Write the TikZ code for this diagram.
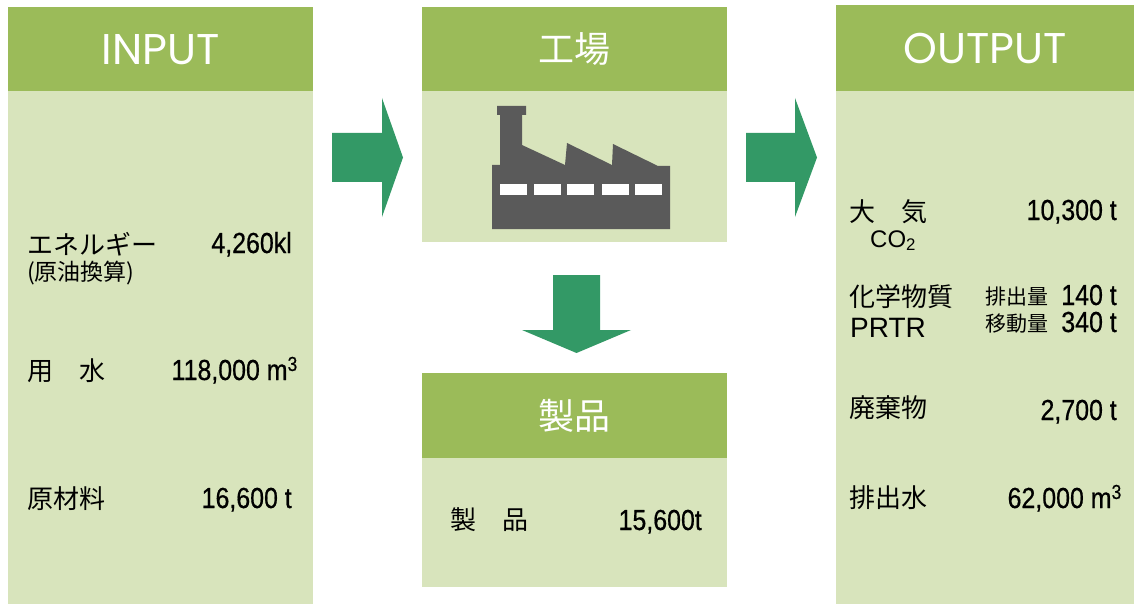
\documentclass[tikz,border=0pt]{standalone}
\usepackage{fontspec}
\setmainfont{Liberation Sans}
\newfontfamily\jpfont{Noto Sans CJK JP}
\newfontfamily\numfont[FakeStretch=0.86, FakeBold=0.6]{Liberation Sans}
\newfontfamily\headfont{Poppins}
\usepackage{xcolor}
\usepackage{tikz}
\usetikzlibrary{positioning}

\definecolor{hdgreen}{HTML}{9BBB59}
\definecolor{bdgreen}{HTML}{D8E4BC}
\definecolor{arrgreen}{HTML}{339966}
\definecolor{factgray}{HTML}{5A5A5A}

\begin{document}
\begin{tikzpicture}[x=1pt, y=-1pt,
                headbox/.style = {fill=hdgreen, inner sep=0, anchor=north west},
                bodybox/.style = {fill=bdgreen, inner sep=0, anchor=north west},
                headtext/.style = {text=white, font=\headfont\fontsize{43}{43}\selectfont},
                jphead/.style = {text=white, font=\jpfont\fontsize{36}{36}\selectfont},
                jplabel/.style = {anchor=west, inner sep=0, font=\jpfont\fontsize{26}{26}\selectfont},
                jpsmall/.style = {anchor=west, inner sep=0, font=\jpfont\fontsize{21}{21}\selectfont},
                numval/.style = {anchor=base east, inner sep=0, font=\numfont\fontsize{29}{29}\selectfont},
                latlabel/.style = {anchor=base west, inner sep=0, font=\fontsize{28}{28}\selectfont},
                blockarrow/.style = {fill=arrgreen}]
            \useasboundingbox (0,0) rectangle (1134,604);
            % panels
            \node[headbox, headtext, minimum width=305, minimum height=84] (inhead) at (8,7) {INPUT};
            \node[bodybox, minimum width=305, minimum height=513] (inbody) at (8,91) {};
            \node[headbox, jphead, minimum width=305, minimum height=84] (facthead) at (422,7) {工場};
            \node[bodybox, minimum width=305, minimum height=151] (factbody) at (422,91) {};
            \node[headbox, jphead, minimum width=305, minimum height=85] (prodhead) at (422,373) {製品};
            \node[bodybox, minimum width=305, minimum height=129] (prodbody) at (422,458) {};
            \node[headbox, headtext, minimum width=298, minimum height=86] (outhead) at (836,5) {OUTPUT};
            \node[bodybox, minimum width=298, minimum height=513] (outbody) at (836,91) {};
            % arrows
            \fill[blockarrow] (332,133) -- (382,133) -- (382,98) -- (403,157.5) -- (382,217) -- (382,182) -- (332,182) -- cycle;
            \fill[blockarrow] (746,133) -- (795,133) -- (795,98) -- (817,157.5) -- (795,217) -- (795,182) -- (746,182) -- cycle;
            \fill[blockarrow] (553,275) -- (600,275) -- (600,330) -- (631,330) -- (576.5,353) -- (522,330) -- (553,330) -- cycle;
            % factory
            \fill[factgray] (492,229) -- (492,165) -- (500,165) -- (500,115) -- (497,115) -- (497,106) -- (526,106)
                -- (526,115) -- (522,115) -- (522,145) -- (565,165) -- (567,143) -- (612,165) -- (613,144)
                -- (658,166) -- (670,166) -- (670,229) -- cycle;
            \foreach \wx in {500,534,567,601.5,635}
                \fill[white] (\wx,184.5) rectangle ++(27,10);
            % input
            \node[jplabel] (energy) at (27,244) {エネルギー};
            \node[jpsmall, font=\jpfont\fontsize{23}{23}\selectfont] (crude) at (27,273) {(原油換算)};
            \node[numval] (energyval) at (292,253) {4,260kl};
            \node[jplabel] (water) at (27,371) {用　水};
            \node[numval] (waterval) at (298,380) {118,000 m\textsuperscript{3}};
            \node[jplabel] (material) at (27,499) {原材料};
            \node[numval] (materialval) at (292,508) {16,600 t};
            % product
            \node[jplabel] (product) at (450,520) {製　品};
            \node[numval] (productval) at (702,530) {15,600t};
            % output
            \node[jplabel] (air) at (849,212) {大　気};
            \node[latlabel, font=\fontsize{24}{24}\selectfont] (co2) at (870,247) {CO\textsubscript{2}};
            \node[numval] (airval) at (1117,220) {10,300 t};
            \node[jplabel] (chem) at (849,297) {化学物質};
            \node[latlabel] (prtr) at (850,337) {PRTR};
            \node[numval] (emitval) at (1117,305) {140 t};
            \node[jpsmall, anchor=east] (emit) at (1049,297) {排出量};
            \node[numval] (moveval) at (1117,332) {340 t};
            \node[jpsmall, anchor=east] (move) at (1049,324) {移動量};
            \node[jplabel] (waste) at (849,408) {廃棄物};
            \node[numval] (wasteval) at (1117,420) {2,700 t};
            \node[jplabel] (drain) at (849,498) {排出水};
            \node[numval] (drainval) at (1122,508) {62,000 m\textsuperscript{3}};
\end{tikzpicture}
\end{document}
